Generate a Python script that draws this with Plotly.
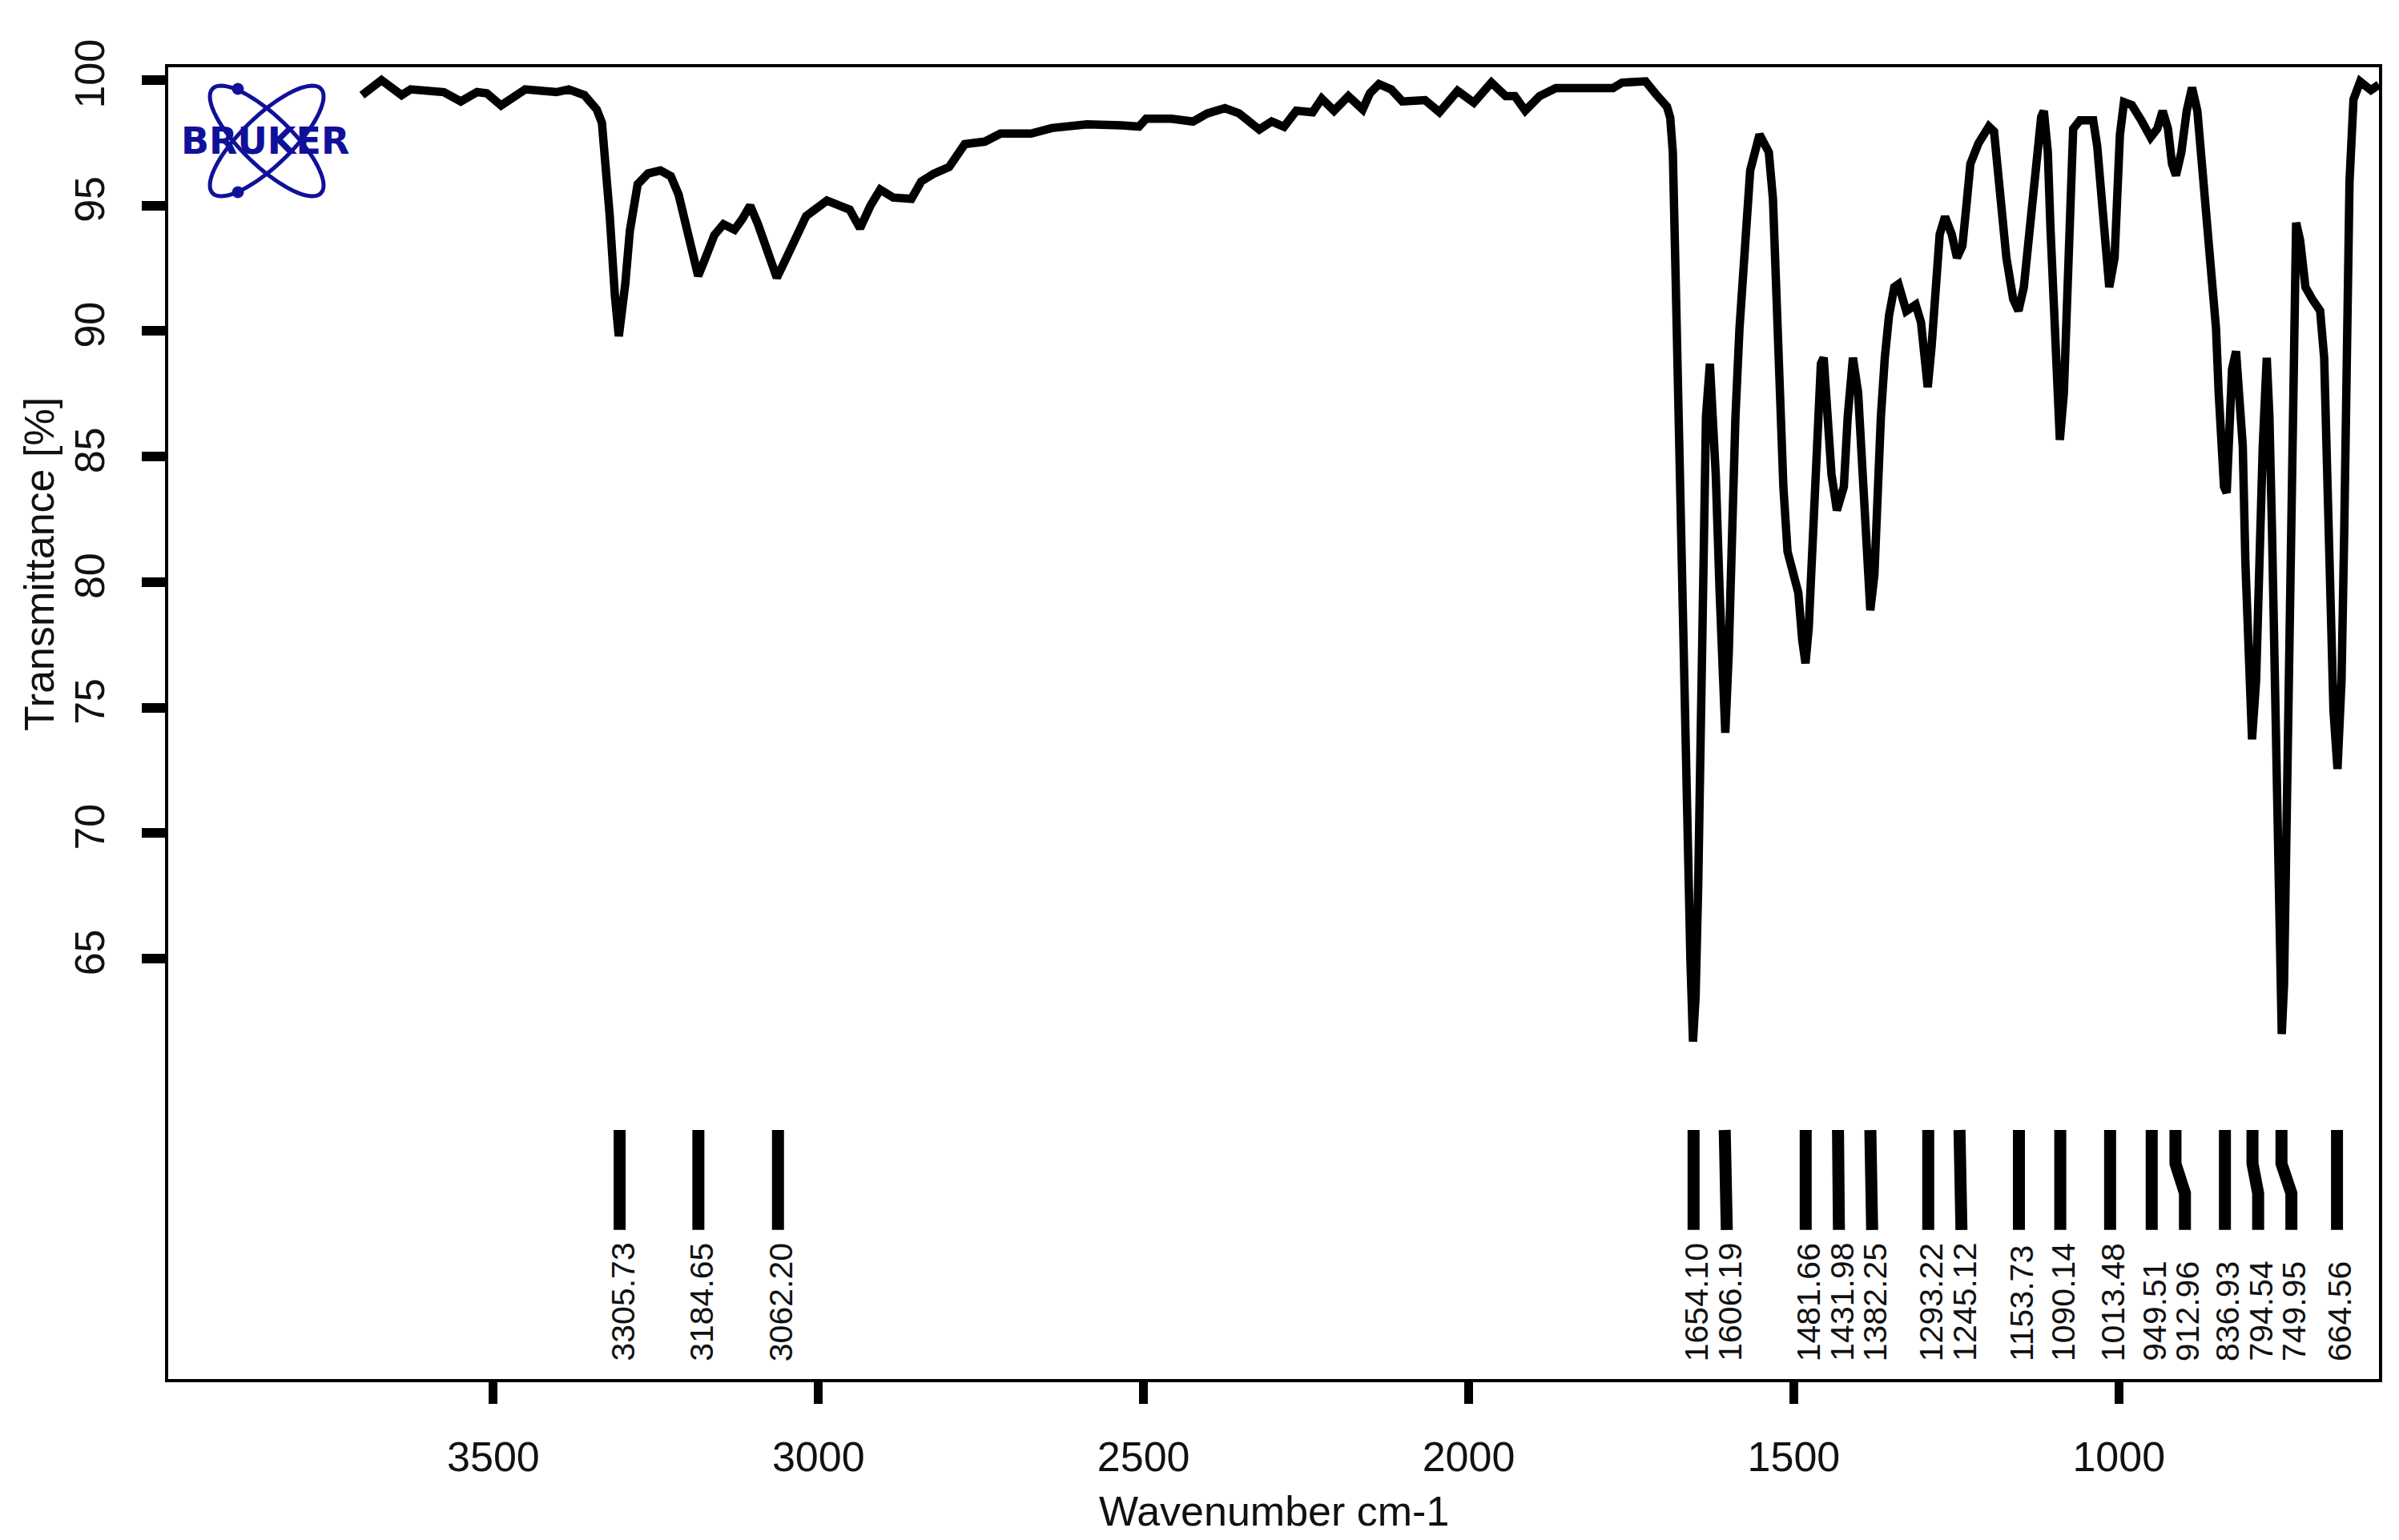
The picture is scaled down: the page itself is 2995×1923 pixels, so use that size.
import math
import plotly.graph_objects as go

# ---------------- data ----------------
wavenumber = [
    3702, 3672, 3641, 3627, 3576, 3550, 3525, 3510, 3488, 3451, 3403, 3384, 3360, 3341, 3333,
    3327, 3321, 3313, 3307, 3297, 3290, 3278, 3262, 3243, 3227, 3215, 3203, 3191, 3185, 3176,
    3160, 3146, 3129, 3117, 3105, 3093, 3077, 3064, 3050, 3034, 3019, 2987, 2964, 2952, 2936,
    2920, 2905, 2885, 2857, 2842, 2822, 2799, 2775, 2744, 2720, 2673, 2641, 2618, 2587, 2534,
    2507, 2496, 2457, 2424, 2402, 2375, 2353, 2322, 2303, 2284, 2265, 2240, 2226, 2207, 2185,
    2163, 2152, 2138, 2119, 2102, 2067, 2045, 2017, 1992, 1965, 1943, 1929, 1913, 1891, 1866,
    1778, 1764, 1728, 1713, 1695, 1690, 1686, 1682, 1676, 1670, 1664, 1659, 1655, 1651, 1647,
    1642, 1637, 1635, 1629, 1624.6, 1620, 1614, 1608, 1605.3, 1600, 1596, 1589.7, 1583.5, 1575,
    1567, 1552.7, 1538.4, 1532, 1528, 1522, 1516, 1509.6, 1501, 1493, 1487, 1482, 1477, 1470.6,
    1464.5, 1458.3, 1454, 1448, 1442, 1433.7, 1423, 1417, 1409, 1401, 1394.7, 1388.5, 1382.3,
    1376, 1372, 1366, 1360, 1353.6, 1345.4, 1339, 1327, 1312.5, 1304.3, 1298, 1294, 1288,
    1281.7, 1275.6, 1267.4, 1257, 1249, 1240.7, 1234.5, 1228.4, 1216, 1200, 1192, 1187, 1181,
    1173, 1162.6, 1154.4, 1146.2, 1138, 1127.7, 1119.5, 1115.4, 1109.3, 1105.2, 1099, 1094.9,
    1090.8, 1084.6, 1080.5, 1076.4, 1070.3, 1060, 1039.5, 1033.3, 1027.2, 1021, 1014.8, 1006.6,
    1002.5, 998.4, 992.2, 980, 965.6, 951.2, 941, 932.7, 924.5, 918.3, 912.2, 903.9, 895.7,
    887.5, 879.3, 875.2, 869, 862.9, 854.7, 850.6, 846.5, 842.4, 838.3, 834.2, 830, 826, 819.8,
    815.7, 809.5, 805.4, 799.3, 795.2, 789, 784.9, 778.7, 772.6, 768.5, 764.4, 760.4, 756.2,
    752.0, 749.5, 746, 743.8, 739.7, 735.6, 731.5, 727.4, 721.3, 713.1, 702.8, 690.5, 684.3,
    680.2, 676.1, 670, 663.8, 657.6, 653.5, 649.4, 645.3, 639.2, 628.9, 612.4, 600.1,
]
transmittance = [
    99.4, 100.0, 99.4, 99.63, 99.52, 99.15, 99.52, 99.47, 98.99, 99.63, 99.52, 99.63, 99.4, 98.83, 98.3,
    96.7, 94.6, 91.4, 89.8, 91.9, 94.0, 95.85, 96.28, 96.4, 96.17, 95.43, 94.0, 92.66, 92.2, 92.77,
    93.83, 94.26, 94.04, 94.47, 95.0, 94.26, 92.98, 92.13, 92.88, 93.83, 94.58, 95.2, 95.0, 94.84, 94.1,
    95.0, 95.64, 95.32, 95.27, 95.96, 96.28, 96.54, 97.45, 97.55, 97.87, 97.87, 98.09, 98.14, 98.24, 98.2,
    98.15, 98.46, 98.46, 98.35, 98.67, 98.88, 98.67, 98.03, 98.35, 98.14, 98.78, 98.72, 99.26, 98.78, 99.36,
    98.83, 99.47, 99.84, 99.63, 99.15, 99.2, 98.72, 99.57, 99.1, 99.9, 99.36, 99.36, 98.78, 99.36, 99.68,
    99.68, 99.9, 99.95, 99.47, 98.94, 98.5, 97.13, 92.5, 84.26, 76.08, 70.2, 65.0, 61.7, 63.5, 67.9,
    74.9, 81.9, 86.6, 88.7, 86.6, 84.3, 79.6, 74.9, 74.0, 77.2, 81.9, 86.6, 90.1, 93.6,
    96.4, 97.83, 97.13, 95.26, 92.22, 87.77, 83.8, 81.22, 80.5, 79.58, 77.7, 76.77, 78.18, 82.4,
    86.6, 88.7, 88.94, 86.6, 84.3, 82.86, 83.8, 86.6, 88.94, 87.54, 84.26, 80.75, 78.88,
    80.3, 83.1, 86.6, 88.94, 90.6, 91.75, 91.87, 90.8, 91.05, 90.35, 88.5, 87.77, 89.4,
    91.75, 93.85, 94.56, 93.85, 92.92, 93.39, 95.0, 96.66, 97.48, 98.15, 97.95, 96.5, 94.4,
    92.92, 91.28, 90.81, 91.75, 93.85, 96.43, 98.53, 98.77, 97.13, 94.09, 90.58, 87.77,
    85.67, 87.54, 91.28, 95.26, 98.06, 98.4, 98.4, 97.36, 95.49, 93.15, 91.75, 92.92,
    95.26, 97.83, 99.12, 99.0, 98.4, 97.72, 98.06, 98.77, 98.06, 96.66, 96.2, 97.13, 98.77,
    99.7, 98.77, 97.6, 95.96, 94.09, 91.98, 90.11, 87.54, 85.67, 83.8, 83.56, 86.1, 88.47, 89.2,
    87.54, 85.43, 80.75, 76.08, 73.74, 76.08, 80.75, 85.43, 88.94, 86.6, 81.92, 76.08, 70.2,
    65.55, 62.0, 64.0, 67.9, 74.9, 81.9, 88.94, 94.32, 93.62, 91.75, 91.28, 90.81, 88.94,
    84.26, 79.58, 74.9, 72.56, 76.08, 81.92, 88.94, 95.96, 99.23, 99.94, 99.6, 99.82,
]
peaks = [3305.73, 3184.65, 3062.20, 1654.10, 1606.19, 1481.66, 1431.98, 1382.25, 1293.22,
         1245.12, 1153.73, 1090.14, 1013.48, 949.51, 912.96, 836.93, 794.54, 749.95, 664.56]
x_ticks = [3500, 3000, 2500, 2000, 1500, 1000]
y_ticks = [65, 70, 75, 80, 85, 90, 95, 100]

# ---------------- layout constants ----------------
W, H = 2995, 1923
ML, MR, MT, MB = 210, 25, 84, 201
PW, PH = W - ML - MR, H - MT - MB
X_RANGE = [4000, 600]
Y_RANGE = [48.26, 100.51]
FONT = "Liberation Sans, Arial, sans-serif"
INK = "#111111"
LOGO = "#10109a"

# label spacing along the axis (in wavenumber units) so peak labels don't overlap
MIN_SEP = 51.1
label_pos = []
for p in peaks:
    if label_pos and label_pos[-1] - p < MIN_SEP:
        label_pos.append(label_pos[-1] - MIN_SEP)
    else:
        label_pos.append(p)

fig = go.Figure()

fig.add_trace(go.Scatter(
    x=wavenumber, y=transmittance, mode="lines",
    line=dict(color="black", width=10.5), hoverinfo="skip", showlegend=False,
))

# peak marker bars
bx, by = [], []
for p, lp in zip(peaks, label_pos):
    bx += [p, p, lp, lp, None]
    by += [58.18, 56.84, 55.66, 54.2, None]
fig.add_trace(go.Scatter(
    x=bx, y=by, mode="lines", line=dict(color="black", width=15),
    hoverinfo="skip", showlegend=False,
))

annotations = []
for p, lp in zip(peaks, label_pos):
    annotations.append(dict(
        x=lp, y=48.9, xref="x", yref="y", text=f"{p:.2f}", showarrow=False,
        textangle=-90, xanchor="center", yanchor="bottom", xshift=4,
        font=dict(family=FONT, size=41, color=INK),
    ))


def px2paper(px, py):
    return (px - ML) / PW, 1 - (py - MT) / PH


annotations.append(dict(
    x=px2paper(49, 0)[0], y=px2paper(0, 705)[1], xref="paper", yref="paper",
    text="Transmittance [%]", showarrow=False, textangle=-90,
    xanchor="center", yanchor="middle", font=dict(family=FONT, size=52, color=INK),
))
annotations.append(dict(
    x=0.5, y=px2paper(0, 1887)[1], xref="paper", yref="paper",
    text="Wavenumber cm-1", showarrow=False,
    xanchor="center", yanchor="middle", font=dict(family=FONT, size=52, color=INK),
))
# Bruker logo text
lx, ly = px2paper(331, 176)
annotations.append(dict(
    x=lx, y=ly, xref="paper", yref="paper", text="<b>BRUKER</b>", showarrow=False,
    xanchor="center", yanchor="middle",
    font=dict(family="DejaVu Sans, Liberation Sans, sans-serif", size=46, color=LOGO),
))


def ellipse_path(cx, cy, a, b, theta_deg, n=72):
    th = math.radians(theta_deg)
    pts = []
    for i in range(n):
        t = 2 * math.pi * i / n
        ex, ey = a * math.cos(t), b * math.sin(t)
        sx = cx + ex * math.cos(th) - ey * math.sin(th)
        sy = cy + ex * math.sin(th) + ey * math.cos(th)
        pts.append(px2paper(sx, sy))
    return "M " + " L ".join(f"{x:.5f},{y:.5f}" for x, y in pts) + " Z"


shapes = []
for ang in (44, -44):
    shapes.append(dict(type="path", xref="paper", yref="paper",
                       path=ellipse_path(333, 176, 94, 31, ang),
                       line=dict(color=LOGO, width=5), layer="below"))
for (dx, dy) in ((297, 111), (297, 240)):
    x0, y0 = px2paper(dx - 7, dy - 7)
    x1, y1 = px2paper(dx + 7, dy + 7)
    shapes.append(dict(type="circle", xref="paper", yref="paper", x0=x0, x1=x1, y0=y0, y1=y1,
                       fillcolor=LOGO, line=dict(color=LOGO, width=1), layer="below"))

fig.update_layout(
    width=W, height=H, margin=dict(l=ML, r=MR, t=MT, b=MB, pad=0),
    paper_bgcolor="white", plot_bgcolor="white", showlegend=False,
    annotations=annotations, shapes=shapes,
    font=dict(family=FONT, color=INK),
)
fig.update_xaxes(
    range=X_RANGE, tickvals=x_ticks, ticktext=[str(v) for v in x_ticks],
    showgrid=False, zeroline=False, showline=True, linewidth=4, linecolor="black", mirror=True,
    ticks="outside", ticklen=27, tickwidth=11, tickcolor="black",
    tickfont=dict(family=FONT, size=52, color=INK), ticklabelstandoff=22,
)
fig.update_yaxes(
    range=Y_RANGE, tickvals=y_ticks, ticktext=[str(v) for v in y_ticks],
    showgrid=False, zeroline=False, showline=True, linewidth=4, linecolor="black", mirror=True,
    ticks="outside", ticklen=29, tickwidth=12, tickcolor="black", tickangle=-90,
    tickfont=dict(family=FONT, size=52, color=INK), ticklabelstandoff=26,
)

fig.write_html(
    "out.html",
    config={"displayModeBar": False},
    post_script="document.body.style.margin='0';document.body.style.overflow='hidden';",
)
